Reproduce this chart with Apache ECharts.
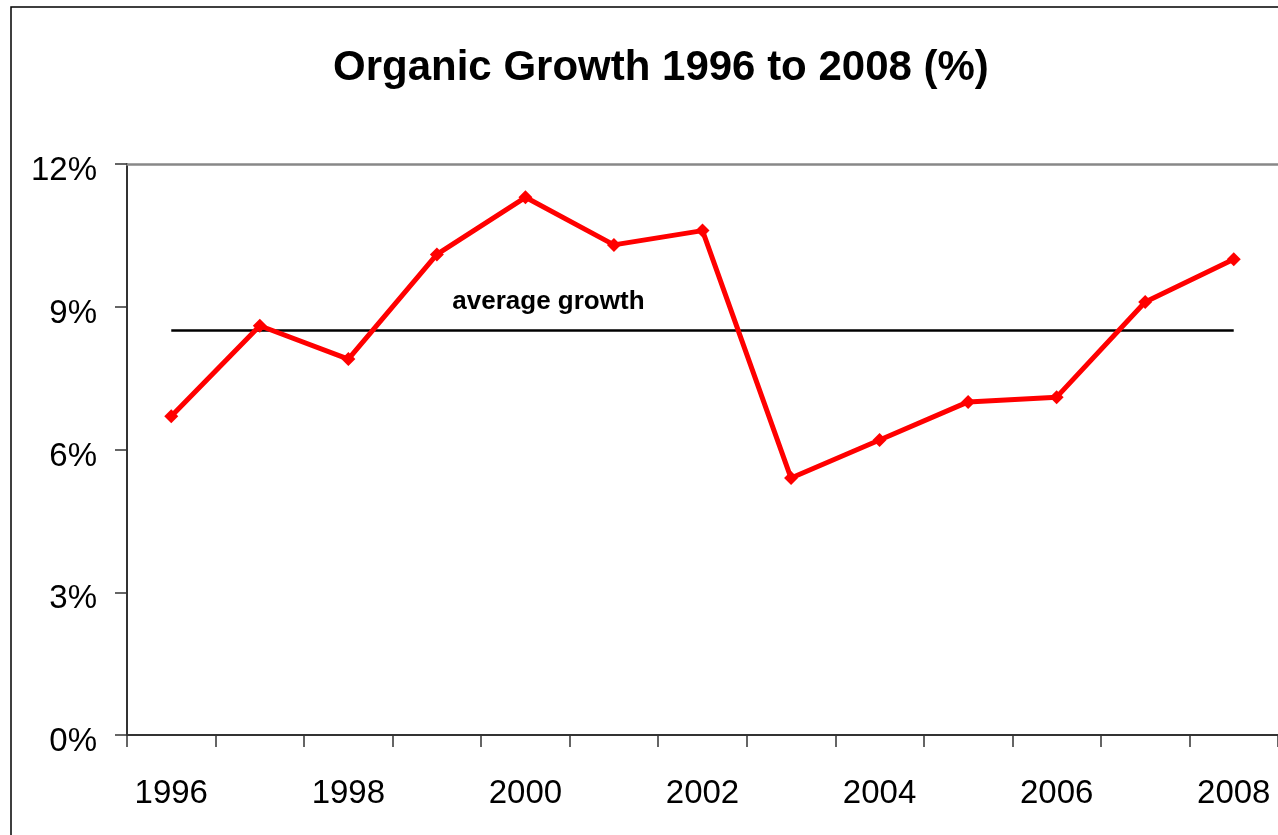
<!DOCTYPE html>
<html>
	<head>
		<meta charset="UTF-8">
		<title>Organic Growth</title>
		<script src="https://cdn.jsdelivr.net/npm/echarts@6/dist/echarts.min.js"></script>
	</head>
	<body style="margin:0;background:#fff;">
		<div id="growth_chart" style="width:1278px;height:835px;"></div>
		<script>
			// data
			var years = ['1996','1997','1998','1999','2000','2001','2002','2003','2004','2005','2006','2007','2008'];
			var growth = [6.7, 8.6, 7.9, 10.1, 11.3, 10.3, 10.6, 5.4, 6.2, 7.0, 7.1, 9.1, 10.0];
			var avgGrowth = 8.5;
			var avgLabelYear = '2000';

			var avgData = years.map(function(){ return avgGrowth; });

			var option = {
				animation: false,
				title: {
					text: 'Organic Growth 1996 to 2008 (%)',
					left: 328,
					top: 42,
					textStyle: {
						fontFamily: 'Liberation Sans',
						fontSize: 42,
						fontWeight: 'bold',
						color: '#000'
					}
				},
				graphic: [{
					type: 'rect',
					shape: {x: 11, y: 7, width: 1400, height: 1000},
					style: {fill: 'none', stroke: '#000', lineWidth: 1.5},
					silent: true
				}],
				grid: {
					left: 127, top: 164, width: 1153, bottom: 100
				},
				xAxis: [{
					type: 'category',
					data: years,
					boundaryGap: true,
					axisLine: {lineStyle: {color: '#333', width: 2}},
					axisTick: {show: true, interval: 0, length: 12, lineStyle: {color: '#333', width: 1.5}},
					axisLabel: {
						interval: 1,
						margin: 42,
						color: '#000',
						fontFamily: 'Liberation Sans',
						fontSize: 33
					},
					splitLine: {show: false}
				}, {
					type: 'category',
					position: 'top',
					data: years,
					axisLine: {lineStyle: {color: '#888', width: 2.5}},
					axisTick: {show: false},
					axisLabel: {show: false}
				}],
				yAxis: {
					type: 'value',
					min: 0,
					max: 12,
					interval: 3,
					axisLine: {show: true, lineStyle: {color: '#333', width: 2}},
					axisTick: {show: true, length: 12, lineStyle: {color: '#333', width: 1.5}},
					axisLabel: {
						margin: 30,
						color: '#000',
						fontFamily: 'Liberation Sans',
						fontSize: 33,
						verticalAlign: 'top',
						lineHeight: 14,
						formatter: '{value}%'
					},
					splitLine: {show: false}
				},
				series: [{
					name: 'average growth',
					type: 'line',
					data: avgData,
					symbol: 'none',
					lineStyle: {color: '#000', width: 2.5},
					markPoint: {
						symbol: 'rect',
						symbolSize: 1,
						itemStyle: {color: 'rgba(0,0,0,0)'},
						label: {
							show: true,
							position: 'top',
							distance: 15,
							offset: [23, 0],
							formatter: 'average growth',
							color: '#000',
							fontFamily: 'Liberation Sans',
							fontWeight: 'bold',
							fontSize: 26
						},
						data: [{coord: [avgLabelYear, avgGrowth]}]
					},
					z: 2
				}, {
					name: 'growth',
					type: 'line',
					data: growth,
					symbol: 'diamond',
					symbolSize: 14,
					itemStyle: {color: '#ff0000'},
					lineStyle: {color: '#ff0000', width: 5},
					z: 3
				}]
			};

			var myChart = echarts.init(document.getElementById('growth_chart'));
			myChart.setOption(option);
		</script>
	</body>
</html>
